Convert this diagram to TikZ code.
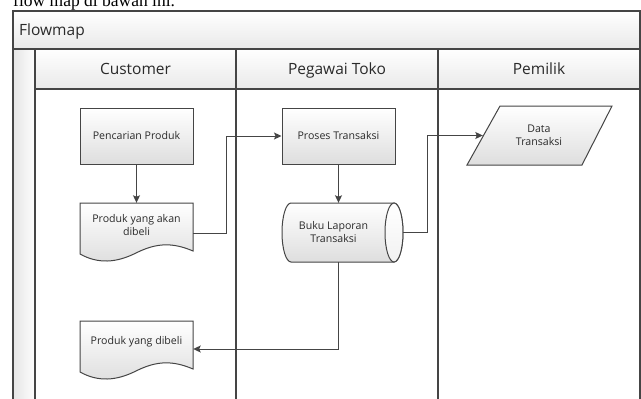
\documentclass[tikz,border=0pt]{standalone}
\usepackage{fontspec}
\setmainfont{Open Sans}
\newfontfamily\serifa{Liberation Serif}
\usetikzlibrary{arrows.meta,calc}
\definecolor{linec}{HTML}{454545}
\definecolor{textc}{HTML}{2A2A2A}
\definecolor{fillb}{HTML}{DEDEDE}
\definecolor{hdrb}{HTML}{E9E9E9}
\definecolor{stripc}{HTML}{E6E6E6}
\begin{document}
\begin{tikzpicture}[x=1pt,y=-1pt,
  frame/.style={draw=linec,line width=1.1pt},
  hdr/.style={font=\fontsize{15.5}{18}\selectfont,text=textc,inner sep=0pt},
  boxnode/.style={draw=linec,line width=1pt,top color=white,bottom color=fillb,
    font=\fontsize{10.6}{13}\selectfont,text=textc,align=center,inner sep=0pt},
  ghost/.style={draw=none,font=\fontsize{10.6}{13}\selectfont,text=textc,align=center,inner sep=0pt},
  shapefill/.style={draw=linec,line width=1pt,top color=white,bottom color=fillb},
  conn/.style={draw=linec,line width=1pt,-{Stealth[length=7.5pt,width=7pt,inset=1.5pt]}}]
\useasboundingbox (0,0) rectangle (641,399);
\fill[white] (0,0) rectangle (641,399);
% caption fragment
\node[anchor=base west,font=\serifa\fontsize{17.5}{20}\selectfont,inner sep=0pt] (cap) at (13,6) {flow map di bawah ini.};
% header fills
\path[top color=white,bottom color=hdrb] (13,11) rectangle (640,49);
\path[top color=white,bottom color=hdrb] (35,49) rectangle (640,89);
\path[left color=stripc,right color=white!92!stripc] (13,49) rectangle (35,410);
% frame lines
\draw[frame] (13,410) -- (13,11) -- (640,11) -- (640,410);
\draw[frame] (13,49) -- (640,49);
\draw[frame] (35,49) -- (35,410);
\draw[frame] (35,89) -- (640,89);
\draw[frame] (236,49) -- (236,410);
\draw[frame] (438,49) -- (438,410);
% header texts
\node[hdr,anchor=base west] (fm) at (19,35) {Flowmap};
\node[hdr,anchor=base] (lc) at (135.5,74) {Customer};
\node[hdr,anchor=base] (lp) at (337,74) {Pegawai Toko};
\node[hdr,anchor=base] (lo) at (539,74) {Pemilik};
% document shapes
\path[shapefill] (80,203) -- (193,203) -- (193,251) .. controls (172,242) and (156,243) .. (136,253)
  .. controls (116,263) and (98,264) .. (80,254) -- cycle;
\path[shapefill] (80,321) -- (193,321) -- (193,369) .. controls (172,360) and (156,361) .. (136,371)
  .. controls (116,381) and (98,382) .. (80,372) -- cycle;
% cylinder (direct data)
\path[shapefill] (291,203) -- (394,203)
  .. controls (398.97,203) and (403,216.21) .. (403,232.5)
  .. controls (403,248.79) and (398.97,262) .. (394,262) -- (291,262)
  .. controls (286.03,262) and (282,248.79) .. (282,232.5)
  .. controls (282,216.21) and (286.03,203) .. (291,203) -- cycle;
\path[draw=linec,line width=1pt,top color=white,bottom color=white!60!fillb] (394,232.5) ellipse [x radius=9pt, y radius=29.5pt];
% parallelogram
\path[shapefill] (500,106) -- (612,106) -- (582,165) -- (467,165) -- cycle;
% nodes
\node[boxnode,minimum width=113pt,minimum height=56pt] (pp) at (136.5,136) {Pencarian Produk};
\node[boxnode,minimum width=113pt,minimum height=56pt] (pt) at (338.5,136) {Proses Transaksi};
\node[ghost,minimum width=113pt,minimum height=45pt] (pya) at (136.5,225.5) {Produk yang akan\\dibeli};
\node[ghost,minimum width=113pt,minimum height=42pt] (pyd) at (136.5,342) {Produk yang dibeli};
\node[ghost,minimum width=103pt,minimum height=59pt] (blt) at (333.5,232.5) {Buku Laporan\\Transaksi};
\node[ghost,minimum width=112pt,minimum height=59pt] (dt) at (539,135.5) {Data\\Transaksi};
% connectors
\draw[conn] (pp.south) -- (pya.north);
\draw[conn] ([yshift=-7.5pt]pya.east) -- ++(33,0) |- (pt.west);
\draw[conn] (pt.south) -- (pt.south |- blt.north);
\draw[conn] ([xshift=18pt]blt.east) -- ++(24,0) |- (dt.west);
\draw[conn] ([xshift=4.5pt]blt.south) |- ([yshift=-7pt]pyd.east);
\end{tikzpicture}
\end{document}
